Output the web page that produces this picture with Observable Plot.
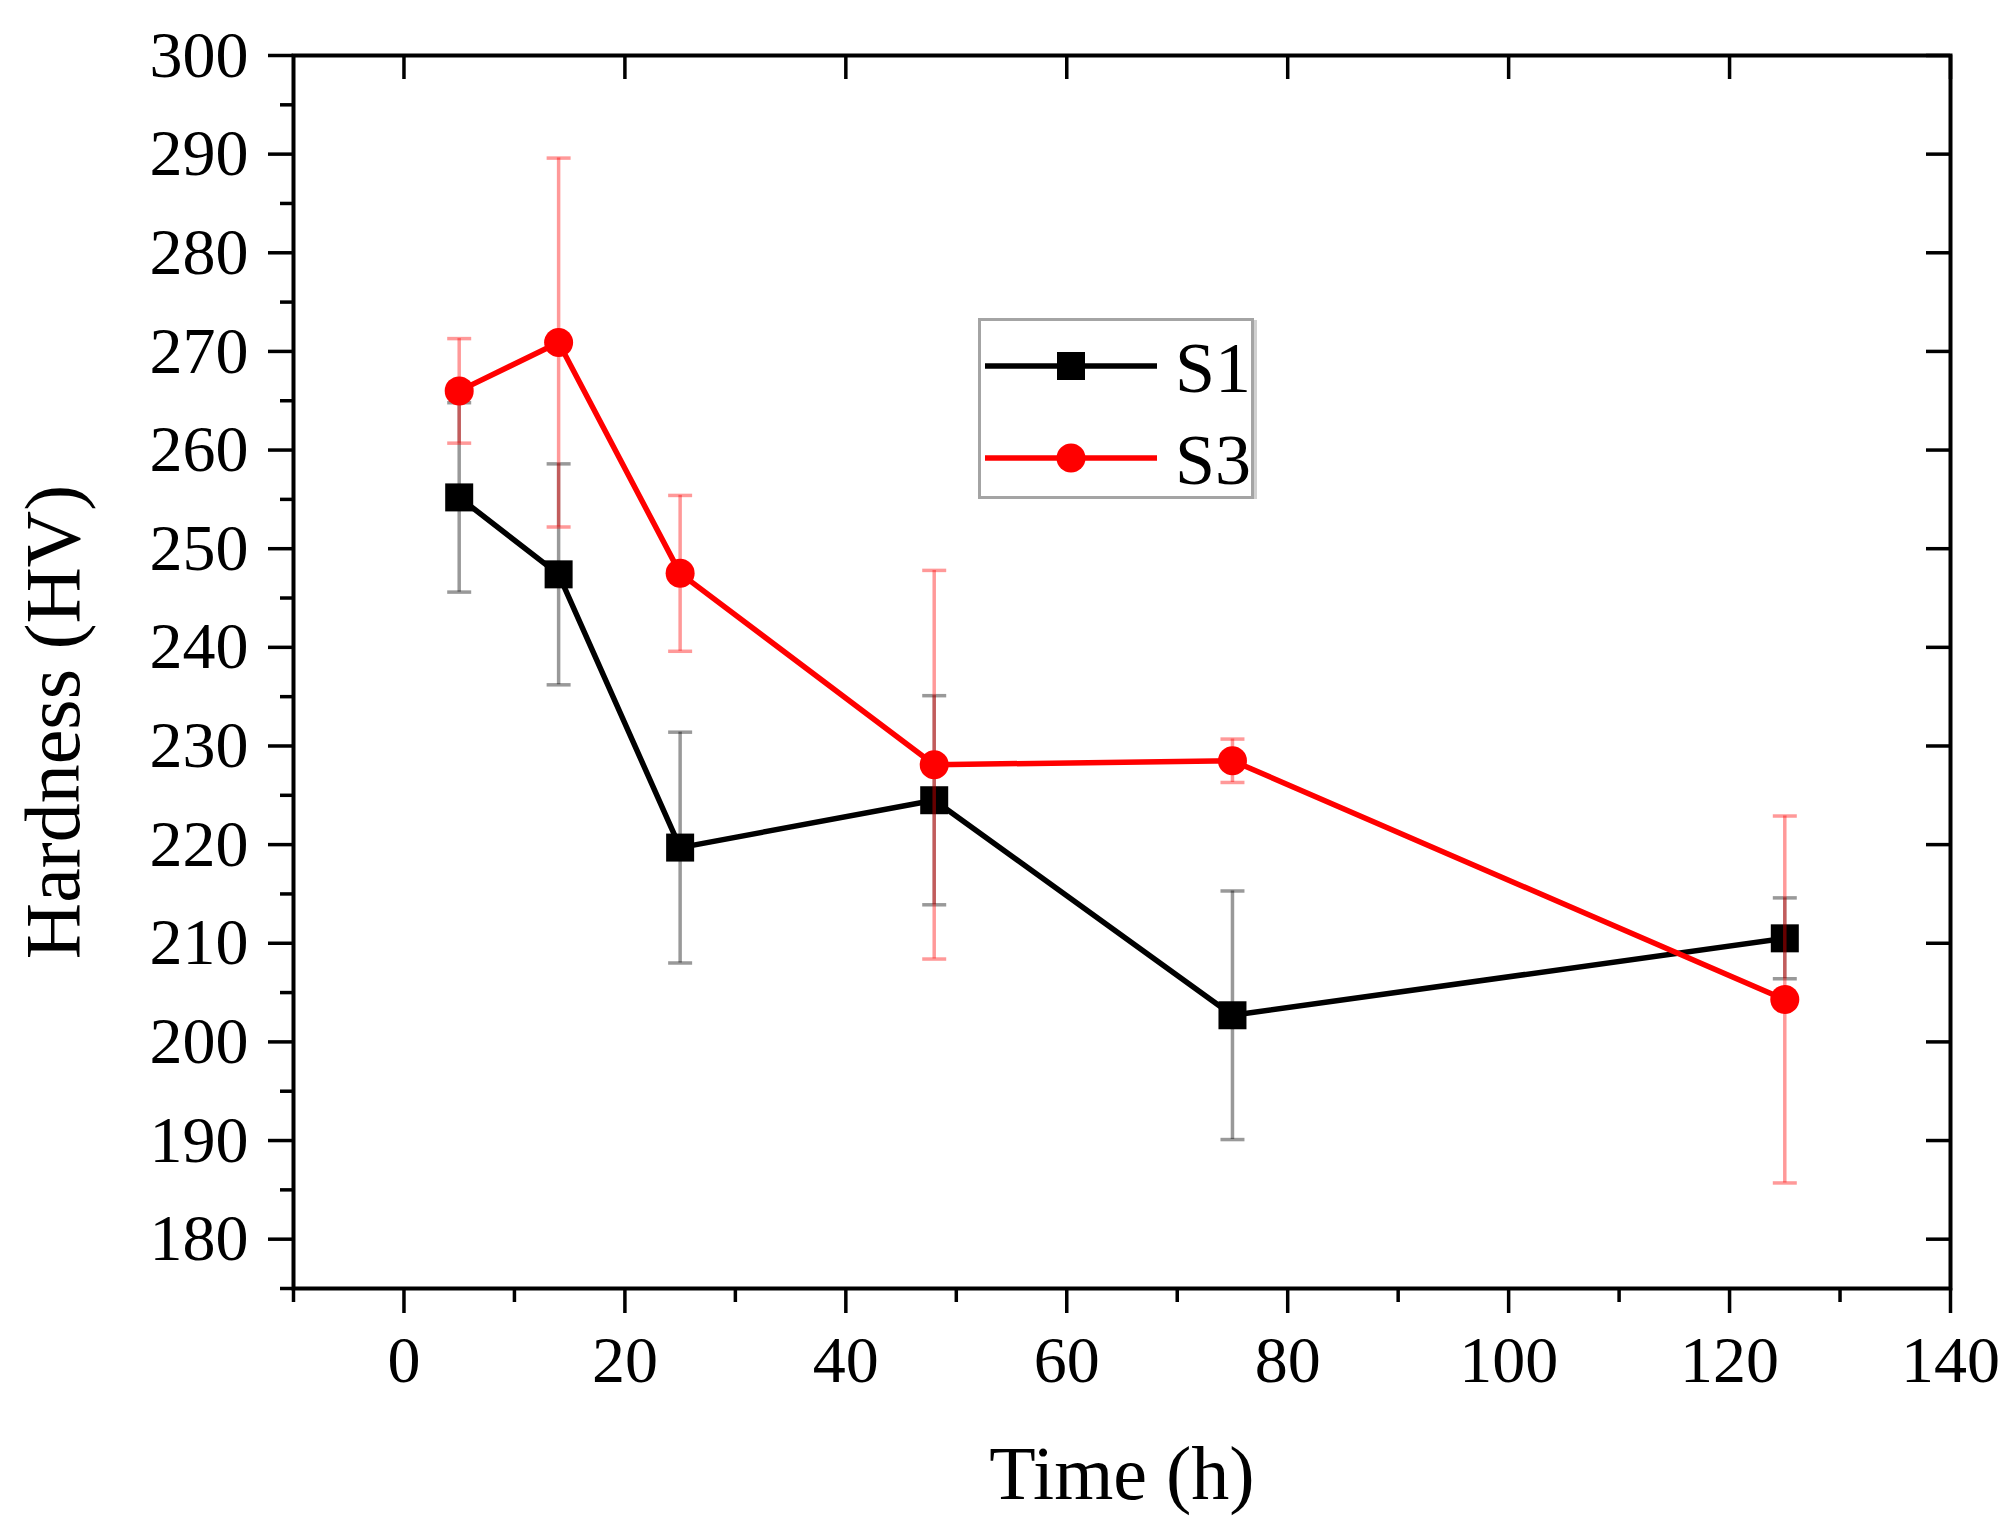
<!DOCTYPE html>
<html>
<head>
<meta charset="utf-8">
<script src="https://cdn.jsdelivr.net/npm/d3@7"></script>
<script src="https://cdn.jsdelivr.net/npm/@observablehq/plot@0.6"></script>
<style>
  html, body { margin: 0; padding: 0; background: #fff; overflow: hidden; }
  #wrap { position: relative; width: 2014px; height: 1538px; }
  #legend { position: absolute; left: 978px; top: 318px; }
</style>
</head>
<body>
<div id="wrap"></div>
<script>
// ---- data ----
const time = [5, 14, 25, 48, 75, 125];
const s1 = [255.2, 247.4, 219.7, 224.5, 202.7, 210.5];
const s1Err = [9.6, 11.2, 11.7, 10.6, 12.6, 4.1];
const s3 = [266.0, 270.9, 247.5, 228.1, 228.5, 204.3];
const s3Err = [5.3, 18.7, 7.9, 19.7, 2.2, 18.6];

const seriesNames = ["S1", "S3"];
const seriesColors = ["#000000", "#ff0000"];
const seriesSymbols = ["square", "circle"];

const xMajor = [0, 20, 40, 60, 80, 100, 120, 140];
const xMinor = [-10, 10, 30, 50, 70, 90, 110, 130];
const yMajor = [180, 190, 200, 210, 220, 230, 240, 250, 260, 270, 280, 290, 300];
const yMinor = [175, 185, 195, 205, 215, 225, 235, 245, 255, 265, 275, 285, 295];

const xTitle = "Time (h)";
const yTitle = "Hardness (HV)";

// ---- layout ----
const W = 2014, H = 1538;
const mL = 293, mR = 64, mT = 55, mB = 250;
const frameW = W - mL - mR, frameH = H - mT - mB;
const font = "'Liberation Serif', 'Times New Roman', serif";

const seriesValues = [s1, s3];
const seriesErrors = [s1Err, s3Err];
const tables = seriesNames.map((name, k) =>
  time.map((t, i) => ({
    series: name,
    t,
    v: seriesValues[k][i],
    lo: seriesValues[k][i] - seriesErrors[k][i],
    hi: seriesValues[k][i] + seriesErrors[k][i]
  }))
);

const capSymbol = {
  draw(ctx, size) {
    const r = Math.sqrt(size / Math.PI);
    ctx.moveTo(-r, 0);
    ctx.lineTo(r, 0);
  }
};

const seriesMarks = tables.flatMap((rows, k) => {
  const c = seriesColors[k];
  return [
    Plot.ruleX(rows, {x: "t", y1: "lo", y2: "hi", stroke: c, strokeOpacity: 0.4, strokeWidth: 3.5}),
    Plot.dot(rows, {x: "t", y: "hi", symbol: capSymbol, r: 12, stroke: c, strokeOpacity: 0.4, strokeWidth: 3.5, fill: "none"}),
    Plot.dot(rows, {x: "t", y: "lo", symbol: capSymbol, r: 12, stroke: c, strokeOpacity: 0.4, strokeWidth: 3.5, fill: "none"}),
    Plot.line(rows, {x: "t", y: "v", stroke: c, strokeWidth: 5.5}),
    Plot.dot(rows, {x: "t", y: "v", symbol: seriesSymbols[k], r: seriesSymbols[k] === "square" ? 15.8 : 14.5, fill: c, stroke: "none"})
  ];
});

const chart = Plot.plot({
  width: W,
  height: H,
  marginLeft: mL,
  marginRight: mR,
  marginTop: mT,
  marginBottom: mB,
  style: {fontFamily: font, fontSize: "66px", background: "#fff", color: "#000"},
  x: {domain: [-10, 140]},
  y: {domain: [175, 300]},
  marks: [
    ...seriesMarks,
    // inward ticks on top and right
    Plot.ruleX(xMajor, {x: d => d, insetBottom: frameH - 24, stroke: "#000", strokeWidth: 3.5}),
    Plot.ruleY(yMajor, {y: d => d, insetLeft: frameW - 24, stroke: "#000", strokeWidth: 3.5}),
    // outward axes left / bottom
    Plot.axisY({ticks: yMajor, tickSize: 25, tickPadding: 20, fontSize: 66, label: null, stroke: "#000", strokeWidth: 3.5, fill: "#000"}),
    Plot.axisY({ticks: yMinor, tickSize: 13, label: null, stroke: "#000", strokeWidth: 3.5, fill: "none"}),
    Plot.axisX({ticks: xMajor, tickSize: 25, tickPadding: 22, fontSize: 66, label: null, stroke: "#000", strokeWidth: 3.5, fill: "#000"}),
    Plot.axisX({ticks: xMinor, tickSize: 14, label: null, stroke: "#000", strokeWidth: 3.5, fill: "none"}),
    Plot.frame({stroke: "#000", strokeWidth: 4}),
    // axis titles
    Plot.text([yTitle], {text: d => d, frameAnchor: "left", rotate: -90, dx: -215, dy: 50, lineAnchor: "bottom", textAnchor: "middle", fontSize: 78, fill: "#000"}),
    Plot.text([xTitle], {text: d => d, frameAnchor: "bottom", dy: 210, lineAnchor: "bottom", textAnchor: "middle", fontSize: 76, fill: "#000"})
  ]
});

const wrap = document.getElementById("wrap");
wrap.appendChild(chart);

// ---- legend (inside the plot area) ----
const ns = "http://www.w3.org/2000/svg";
const lg = document.createElementNS(ns, "svg");
lg.setAttribute("id", "legend");
lg.setAttribute("width", 282);
lg.setAttribute("height", 184);
lg.style.fontFamily = font;
function el(name, attrs, text) {
  const e = document.createElementNS(ns, name);
  for (const k in attrs) e.setAttribute(k, attrs[k]);
  if (text !== undefined) e.textContent = text;
  lg.appendChild(e);
  return e;
}
el("rect", {x: 1.5, y: 1.5, width: 273, height: 178, fill: "#fff", stroke: "#a4a4a4", "stroke-width": 3});
el("line", {x1: 277.5, y1: 2, x2: 277.5, y2: 181, stroke: "#d0d0d0", "stroke-width": 3});
seriesNames.forEach((name, k) => {
  const cy = k === 0 ? 48 : 140;
  const c = seriesColors[k];
  el("line", {x1: 7, y1: cy, x2: 179, y2: cy, stroke: c, "stroke-width": 5.5});
  if (seriesSymbols[k] === "square") {
    el("rect", {x: 93 - 14, y: cy - 14, width: 28, height: 28, fill: c});
  } else {
    el("circle", {cx: 93, cy: cy, r: 14.5, fill: c});
  }
  el("text", {x: 197, y: cy + 26, "font-size": 72, fill: "#000"}, name);
});
wrap.appendChild(lg);
</script>
</body>
</html>
